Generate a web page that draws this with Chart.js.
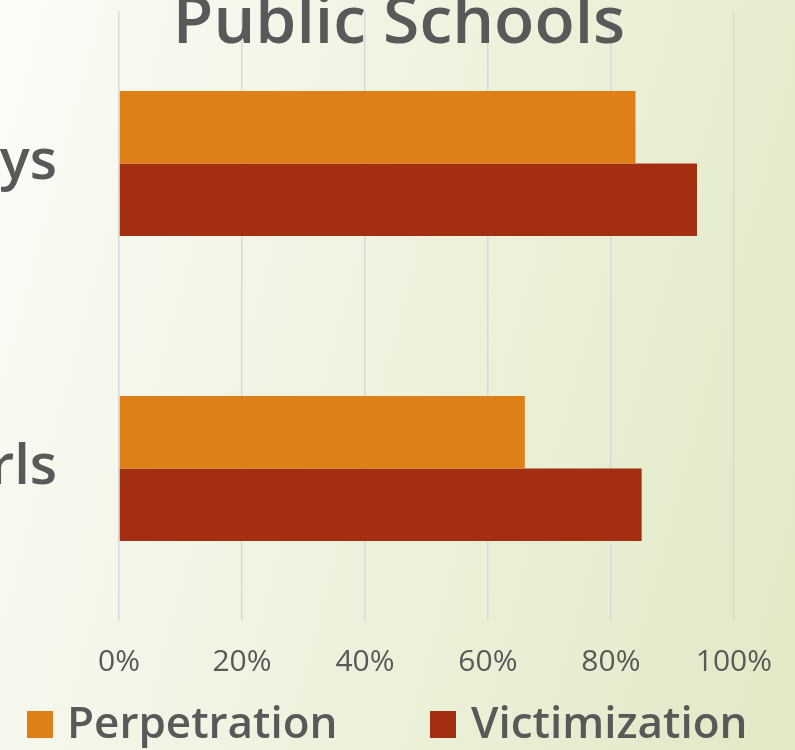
<!DOCTYPE html>
<html>
<head>
<meta charset="utf-8">
<script src="https://cdn.jsdelivr.net/npm/chart.js@4.4.1/dist/chart.umd.min.js"></script>
<style>
html,body{margin:0;padding:0;}
body{
width:795px;height:750px;overflow:hidden;position:relative;
background:linear-gradient(105deg,#fbfcf8 0%,#eef2dd 50%,#e1e9c6 100%);
font-family:'Open Sans',sans-serif;
}
#wrap{position:absolute;left:-100px;top:0;width:895px;height:750px;}
.lg-box{position:absolute;top:711px;width:26px;height:27px;}
.lg-text{position:absolute;top:699px;line-height:44px;font-size:44px;font-weight:600;color:#595959;white-space:nowrap;}
</style>
</head>
<body>
<div id="wrap"><canvas id="chart"></canvas></div>
<div id="legend"></div>

<script>
const categories = ["Boys","Girls"];
const seriesNames = ["Perpetration","Victimization"];
const perpetration = [84,66];
const victimization = [94,85];
const xTicks = [0,20,40,60,80,100];

const colors = ["#df7f18","#a42e10"];
const SHIFT = 100;   // canvas starts left of the window, so the y labels get cut like the picture
const grey = "#595959";

Chart.defaults.font.family = "'Open Sans', sans-serif";
Chart.defaults.color = grey;

/* title drawn on top of the plot, like the original */
const titlePlugin = {
id:"overTitle",
afterDraw(chart){
const ctx = chart.ctx;
ctx.save();
ctx.font = "600 66px 'Open Sans', sans-serif";
ctx.fillStyle = grey;
ctx.textAlign = "center";
ctx.textBaseline = "alphabetic";
ctx.fillText("Public Schools", 399 + SHIFT, 43);
ctx.restore();
}
};

const ctx = document.getElementById("chart");

const chart = new Chart(ctx,{
type:"bar",
data:{
labels:categories,
datasets:[
{label:seriesNames[0],data:perpetration,backgroundColor:colors[0]},
{label:seriesNames[1],data:victimization,backgroundColor:colors[1]}
]
},
options:{
indexAxis:"y",
responsive:true,
maintainAspectRatio:false,
animation:false,
layout:{padding:{top:11,right:60,bottom:0,left:0}},
datasets:{bar:{categoryPercentage:0.475,barPercentage:1}},
plugins:{legend:{display:false},tooltip:{enabled:false}},
scales:{
x:{
min:xTicks[0],
max:xTicks[xTicks.length-1],
afterBuildTicks:s=>{s.ticks = xTicks.map(v=>({value:v}));},
afterFit:s=>{s.height = 129;},
grid:{color:"#d9d9d9",lineWidth:1.5,drawTicks:false},
border:{display:false},
ticks:{
padding:23,
font:{size:30,weight:"400"},
color:grey,
callback:v=>v+"%"
}
},
y:{
/* fixed width; drop the top/bottom padding the big tick padding adds */
afterFit:s=>{
s.width = 119 + SHIFT;
s.paddingTop = 0;
s.paddingBottom = 0;
},
grid:{display:false,drawTicks:false},
border:{display:false},
ticks:{padding:62,font:{size:56,weight:"600"},color:grey}
}
}
},
plugins:[titlePlugin]
});

/* legend */
const legend = document.getElementById("legend");
const boxX = [27,430];
const textX = [67,471];
seriesNames.forEach((name,i)=>{
const box = document.createElement("div");
box.className = "lg-box";
box.style.left = boxX[i]+"px";
box.style.background = colors[i];
legend.appendChild(box);
const t = document.createElement("div");
t.className = "lg-text";
t.style.left = textX[i]+"px";
t.textContent = name;
legend.appendChild(t);
});
</script>
</body>
</html>
